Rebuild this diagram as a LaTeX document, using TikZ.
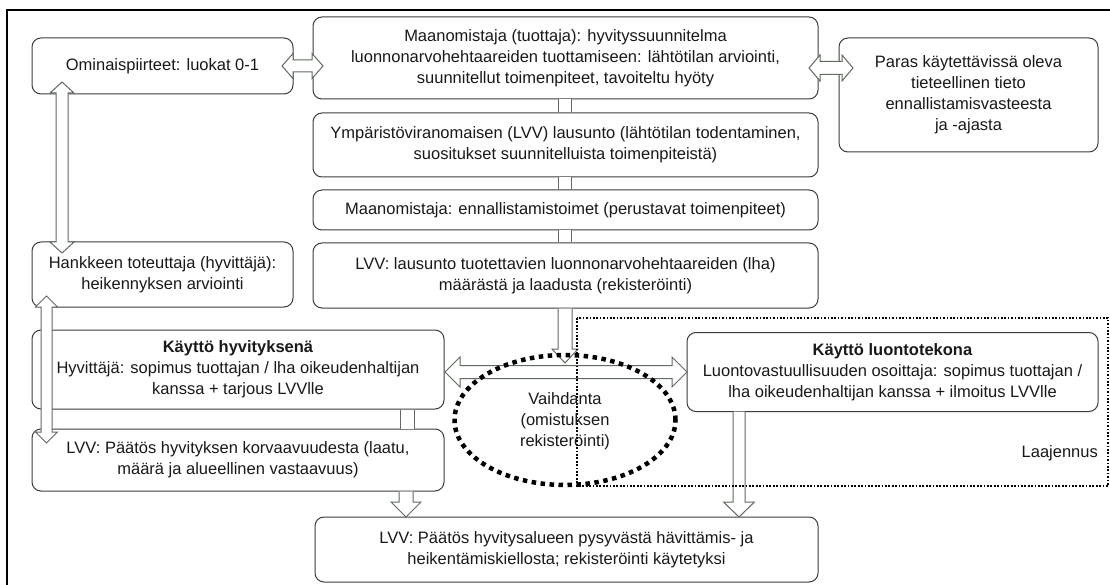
\documentclass[tikz,border=0pt]{standalone}
\usepackage{fontspec}
\setmainfont{Liberation Sans}
\usetikzlibrary{shapes.geometric}
\definecolor{boxc}{RGB}{60,60,60}
\definecolor{arrc}{RGB}{95,108,95}
\definecolor{txt}{RGB}{25,25,25}
% horizontal double block arrow: y, xl, xr, shaft half, head half, head length
\newcommand\HDA[6]{%
\draw[blk] (#2,#1) -- ({#2+#6},{#1-#5}) -- ({#2+#6},{#1-#4}) -- ({#3-#6},{#1-#4}) -- ({#3-#6},{#1-#5}) -- (#3,#1) -- ({#3-#6},{#1+#5}) -- ({#3-#6},{#1+#4}) -- ({#2+#6},{#1+#4}) -- ({#2+#6},{#1+#5}) -- cycle;}
% vertical double block arrow: x, ytop, ybot, shaft half, head half, head length
\newcommand\VDA[6]{%
\draw[blk] (#1,#2) -- ({#1+#5},{#2+#6}) -- ({#1+#4},{#2+#6}) -- ({#1+#4},{#3-#6}) -- ({#1+#5},{#3-#6}) -- (#1,#3) -- ({#1-#5},{#3-#6}) -- ({#1-#4},{#3-#6}) -- ({#1-#4},{#2+#6}) -- ({#1-#5},{#2+#6}) -- cycle;}
% down block arrow: x, ytop, ybot, shaft half, head half, head length
\newcommand\DNA[6]{%
\filldraw[blk] ({#1-#4},#2) -- ({#1-#4},{#3-#6}) -- ({#1-#5},{#3-#6}) -- (#1,#3) -- ({#1+#5},{#3-#6}) -- ({#1+#4},{#3-#6}) -- ({#1+#4},#2);}
% shaft only: x, ytop, ybot, half width
\newcommand\SHF[4]{%
\fill[white] ({#1-#4},#2) rectangle ({#1+#4},#3);
\draw[blk] ({#1-#4},#2) -- ({#1-#4},#3) ({#1+#4},#2) -- ({#1+#4},#3);}
\tikzset{
  box/.style={draw=boxc, line width=1pt, rounded corners=9pt, fill=white, align=center,
    inner sep=0pt, font=\fontsize{16.5}{21}\selectfont, text=txt},
  blk/.style={draw=arrc, line width=1pt, fill=white},
  lbl/.style={align=center, inner sep=0pt, font=\fontsize{16.5}{21}\selectfont, text=txt},
}
\begin{document}
\begin{tikzpicture}[x=1pt,y=-1pt]
\useasboundingbox (0,0) rectangle (1110,585);
\fill[white] (0,0) rectangle (1110,585);
\draw[line width=1.2pt] (1120,10) -- (7,10) -- (7,600);

\node[box, minimum width=261pt, minimum height=56pt] (b1) at (162.5,66) {Ominaispiirteet: luokat 0-1};
\node[box, minimum width=505pt, minimum height=82pt] (b2) at (565.5,58) {Maanomistaja (tuottaja): hyvityssuunnitelma\\luonnonarvohehtaareiden tuottamiseen: lähtötilan arviointi,\\suunnitellut toimenpiteet, tavoiteltu hyöty};
\node[box, minimum width=259pt, minimum height=114pt] (b3) at (968.5,95) {Paras käytettävissä oleva\\tieteellinen tieto\\ennallistamisvasteesta\\ja -ajasta};
\node[box, minimum width=505pt, minimum height=64pt] (b4) at (565.5,145) {Ympäristöviranomaisen (LVV) lausunto (lähtötilan todentaminen,\\suositukset suunnitelluista toimenpiteistä)};
\node[box, minimum width=505pt, minimum height=40pt] (b5) at (565.5,210) {Maanomistaja: ennallistamistoimet (perustavat toimenpiteet)};
\node[box, minimum width=505pt, minimum height=65pt] (b6) at (565.5,275.5) {LVV: lausunto tuotettavien luonnonarvohehtaareiden (lha)\\määrästä ja laadusta (rekisteröinti)};
\node[box, minimum width=261pt, minimum height=65pt] (b7) at (162.5,274.5) {Hankkeen toteuttaja (hyvittäjä):\\heikennyksen arviointi};
\node[box, minimum width=412pt, minimum height=79pt] (b8) at (238,369.5) {\textbf{Käyttö hyvityksenä}\\Hyvittäjä: sopimus tuottajan / lha oikeudenhaltijan\\kanssa + tarjous LVVlle};
\node[box, minimum width=412pt, minimum height=62pt] (b9) at (238,460) {LVV: Päätös hyvityksen korvaavuudesta (laatu,\\määrä ja alueellinen vastaavuus)};
\node[box, minimum width=411pt, minimum height=79pt] (b10) at (892.5,372) {\textbf{Käyttö luontotekona}\\Luontovastuullisuuden osoittaja: sopimus tuottajan /\\lha oikeudenhaltijan kanssa + ilmoitus LVVlle};
\node[box, minimum width=503pt, minimum height=65pt] (b11) at (566.5,549.5) {LVV: Päätös hyvitysalueen pysyvästä hävittämis- ja\\heikentämiskiellosta; rekisteröinti käytetyksi};

% connectors
\HDA{66}{282}{323}{6}{12.5}{11}
\HDA{68}{809}{853}{6.5}{13}{11}
\SHF{564.5}{99.5}{112.5}{6.5}
\SHF{564.5}{177.5}{189.5}{6.5}
\SHF{564.5}{230.5}{242.5}{6.5}
\DNA{565}{308.5}{363}{7}{13}{14}
\HDA{372}{445}{687}{6.5}{15}{15}
\VDA{62}{82}{253}{6}{12}{11}
\VDA{46.5}{296}{443}{5.5}{11}{11}
\SHF{407}{409.5}{428.5}{7}
\DNA{406}{491.5}{517}{7}{15}{15}
\DNA{739}{411.5}{517}{6}{15.5}{15}

% extension area
\draw[line width=1.7pt, dash pattern=on 1.7pt off 1.7pt] (577,318) rectangle (1108,486);
\node[lbl, anchor=east] (laa) at (1098,453) {Laajennus};

% exchange ellipse
\node[draw, ellipse, line width=4.5pt, dash pattern=on 4.5pt off 4.5pt, minimum width=221pt, minimum height=130pt, inner sep=0pt] (ell) at (565,420) {};
\node[lbl] (vaih) at (565,421) {Vaihdanta\\(omistuksen\\rekisteröinti)};
\end{tikzpicture}
\end{document}
